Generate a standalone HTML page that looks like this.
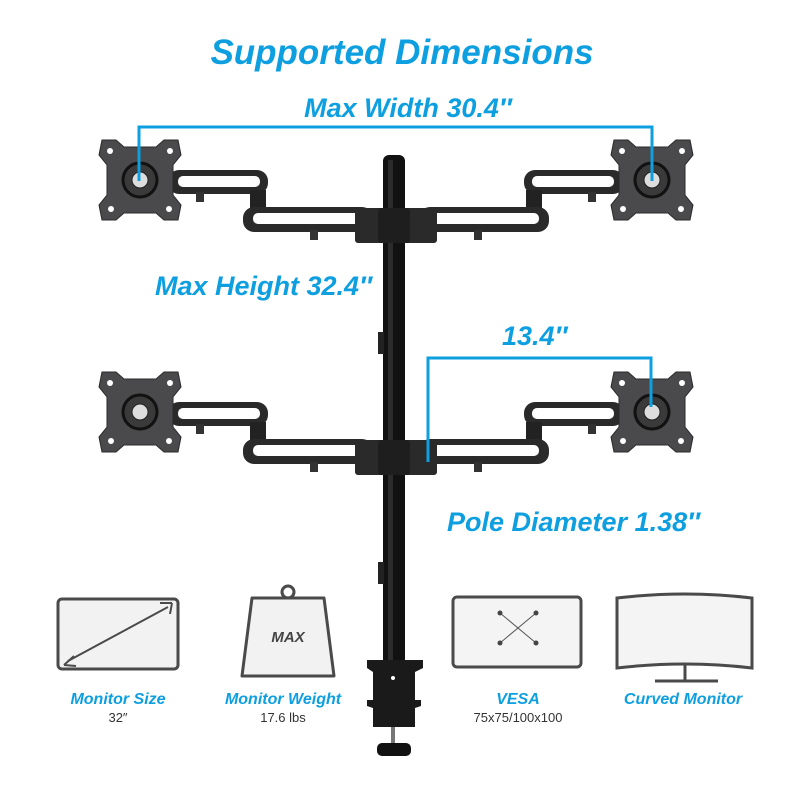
<!DOCTYPE html>
<html><head><meta charset="utf-8"><style>
html,body{margin:0;padding:0;background:#fff;}
svg{display:block;}
.b{fill:#0d9fe0;font-family:"Liberation Sans",sans-serif;font-weight:bold;font-style:italic;}
.l{fill:#0d9fe0;font-family:"Liberation Sans",sans-serif;font-weight:bold;font-style:italic;font-size:16px;}
.s{fill:#333;font-family:"Liberation Sans",sans-serif;font-size:13px;}
</style></head><body>
<svg width="800" height="800" viewBox="0 0 800 800" xmlns="http://www.w3.org/2000/svg">
<defs>
<g id="plate">
<path d="M-38,-40 L-24,-40 L-16,-33 L16,-33 L24,-40 L38,-40 L41,-25 L33,-15 L33,15 L41,25 L38,40 L24,40 L16,33 L-16,33 L-24,40 L-38,40 L-41,25 L-33,15 L-33,-15 L-41,-25 Z" fill="#4a4a4c" stroke="#2a2a2a" stroke-width="1"/>
<circle r="17" fill="#3a3a3a" stroke="#111" stroke-width="3"/>
<circle r="8" fill="#ddd" stroke="#222" stroke-width="1"/>
<circle cx="-30" cy="-29" r="3" fill="#fff"/><circle cx="30" cy="-29" r="3" fill="#fff"/>
<circle cx="-29" cy="29" r="3" fill="#fff"/><circle cx="29" cy="29" r="3" fill="#fff"/>
</g>
<g id="arm">
<rect x="168" y="170" width="100" height="24" rx="11" fill="#2a2a2a"/>
<rect x="178" y="176" width="82" height="11" rx="5" fill="#fff"/>
<rect x="196" y="192" width="8" height="10" fill="#333"/>
<rect x="250" y="190" width="16" height="25" fill="#222"/>
<rect x="243" y="207" width="130" height="25" rx="11" fill="#2a2a2a"/>
<rect x="253" y="213" width="108" height="11" rx="5" fill="#fff"/>
<rect x="310" y="230" width="8" height="10" fill="#333"/>
<rect x="355" y="208" width="41" height="35" rx="3" fill="#2a2a2a"/>
<use href="#plate" x="140" y="180"/>
</g>
</defs>

<text x="402" y="64" text-anchor="middle" class="b" font-size="35">Supported Dimensions</text>
<text x="408" y="117" text-anchor="middle" class="b" font-size="27">Max Width 30.4″</text>

<!-- arms -->
<use href="#arm"/>
<g transform="translate(792,0) scale(-1,1)"><use href="#arm"/></g>
<g transform="translate(0,232)"><use href="#arm"/>
<g transform="translate(792,0) scale(-1,1)"><use href="#arm"/></g></g>

<!-- pole -->
<rect x="383" y="155" width="22" height="510" rx="6" fill="#111"/>
<rect x="388" y="160" width="5" height="505" fill="#2c2c2c"/>
<rect x="378" y="208" width="32" height="35" rx="3" fill="#1e1e1e"/>
<rect x="378" y="440" width="32" height="35" rx="3" fill="#1e1e1e"/>
<rect x="378" y="332" width="6" height="22" fill="#222"/>
<rect x="378" y="562" width="6" height="22" fill="#222"/>

<!-- clamp -->
<path d="M367,660 L423,660 L423,668 L415,672 L415,700 L421,700 L421,706 L415,708 L415,727 L373,727 L373,708 L367,706 L367,700 L373,700 L373,672 L367,668 Z" fill="#1a1a1a"/>
<circle cx="393" cy="678" r="2" fill="#fff"/>
<rect x="391" y="727" width="4" height="17" fill="#777"/>
<rect x="377" y="743" width="34" height="13" rx="5" fill="#111"/>

<!-- blue brackets -->
<path d="M139,181 V127 H652 V181" fill="none" stroke="#0d9fe0" stroke-width="3"/>
<path d="M428,462 V358 H651 V407" fill="none" stroke="#0d9fe0" stroke-width="3"/>

<text x="155" y="295" class="b" font-size="27">Max Height 32.4″</text>
<text x="502" y="345" class="b" font-size="27">13.4″</text>
<text x="447" y="531" class="b" font-size="27">Pole Diameter 1.38″</text>

<!-- icons -->
<g fill="none" stroke="#4a4a4a" stroke-width="3">
<rect x="58" y="599" width="120" height="70" rx="4" fill="#f2f2f2"/>
<line x1="68" y1="661" x2="168" y2="607" stroke-width="2"/>
<path d="M242,676 L252,598 L324,598 L334,676 Z" fill="#f2f2f2" stroke-linejoin="round"/>
<circle cx="288" cy="592" r="6"/>
<rect x="453" y="597" width="128" height="70" rx="4" fill="#f4f4f4"/>
<path d="M617,598 Q685,590 752,598 L752,668 Q685,660 617,668 Z" fill="#f4f4f4"/>
<line x1="685" y1="664" x2="685" y2="680"/><line x1="655" y1="681" x2="718" y2="681"/>
</g>
<path d="M64,665 L74,656 M64,665 L76,666 M172,603 L160,603 M172,603 L170,614" stroke="#4a4a4a" stroke-width="2" fill="none"/>
<text x="288" y="642" text-anchor="middle" font-family="Liberation Sans,sans-serif" font-weight="bold" font-style="italic" font-size="15" fill="#444">MAX</text>
<g stroke="#555" stroke-width="1"><line x1="500" y1="613" x2="536" y2="643"/><line x1="536" y1="613" x2="500" y2="643"/></g>
<g fill="#444"><circle cx="500" cy="613" r="2.5"/><circle cx="536" cy="613" r="2.5"/><circle cx="500" cy="643" r="2.5"/><circle cx="536" cy="643" r="2.5"/></g>

<text x="118" y="704" text-anchor="middle" class="l">Monitor Size</text>
<text x="118" y="722" text-anchor="middle" class="s">32″</text>
<text x="283" y="704" text-anchor="middle" class="l">Monitor Weight</text>
<text x="283" y="722" text-anchor="middle" class="s">17.6 lbs</text>
<text x="518" y="704" text-anchor="middle" class="l">VESA</text>
<text x="518" y="722" text-anchor="middle" class="s">75x75/100x100</text>
<text x="683" y="704" text-anchor="middle" class="l">Curved Monitor</text>
</svg>
</body></html>
